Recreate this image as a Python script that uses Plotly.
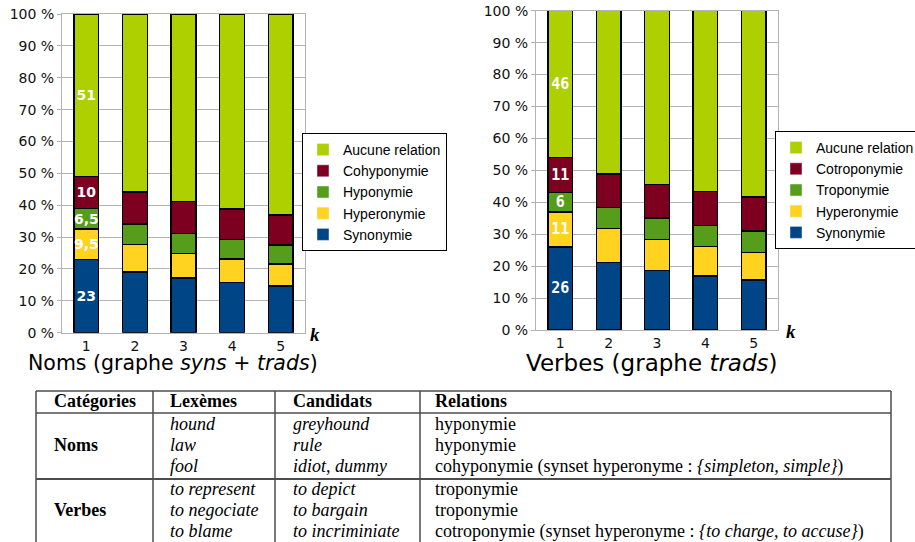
import plotly.graph_objects as go

# The page body margin is removed by a small post-script, so the figure sits at (0, 0).
OFF = 0
W, H = 915 - OFF, 542 - OFF

# ---------------- data ----------------
k_values = [1, 2, 3, 4, 5]
y_ticks = [0, 10, 20, 30, 40, 50, 60, 70, 80, 90, 100]
y_tick_labels = ["0 %", "10 %", "20 %", "30 %", "40 %", "50 %", "60 %", "70 %", "80 %", "90 %", "100 %"]

noms_series = ["Synonymie", "Hyperonymie", "Hyponymie", "Cohyponymie", "Aucune relation"]
noms_synonymie = [23, 19.0, 17.1, 15.7, 14.7]
noms_hyperonymie = [9.5, 8.7, 7.8, 7.5, 6.9]
noms_hyponymie = [6.5, 6.4, 6.3, 6.1, 5.9]
noms_cohyponymie = [10, 10.0, 9.9, 9.5, 9.4]
noms_aucune = [51, 55.9, 58.9, 61.2, 63.1]
noms_labels = [["23", "", "", "", ""], ["9,5", "", "", "", ""], ["6,5", "", "", "", ""],
               ["10", "", "", "", ""], ["51", "", "", "", ""]]

verbes_series = ["Synonymie", "Hyperonymie", "Troponymie", "Cotroponymie", "Aucune relation"]
verbes_synonymie = [26, 21.2, 18.7, 16.9, 15.6]
verbes_hyperonymie = [11, 10.6, 9.6, 9.3, 8.7]
verbes_troponymie = [6, 6.5, 6.7, 6.5, 6.7]
verbes_cotroponymie = [11, 10.6, 10.6, 10.7, 10.7]
verbes_aucune = [46, 51.1, 54.4, 56.6, 58.3]
verbes_labels = [["26", "", "", "", ""], ["11", "", "", "", ""], ["6", "", "", "", ""],
                 ["11", "", "", "", ""], ["46", "", "", "", ""]]

series_colors = ["#004586", "#ffd320", "#579d1c", "#7e0021", "#aecf00"]

noms_title = "Noms (graphe <i>syns</i> + <i>trads</i>)"
verbes_title = "Verbes (graphe <i>trads</i>)"

table_header = ["Catégories", "Lexèmes", "Candidats", "Relations"]
table_categories = ["Noms", "Verbes"]
table_lexemes = [["hound", "law", "fool"], ["to represent", "to negociate", "to blame"]]
table_candidates = [["greyhound", "rule", "idiot, dummy"],
                    ["to depict", "to bargain", "to incriminiate"]]
table_relations = [["hyponymie", "hyponymie",
                    "cohyponymie (synset hyperonyme : <i>{simpleton, simple}</i>)"],
                   ["troponymie", "troponymie",
                    "cotroponymie (synset hyperonyme : <i>{to charge, to accuse}</i>)"]]

# ---------------- helpers ----------------
def px(x):
    return (x - OFF) / W

def py(y):
    return 1 - (y - OFF) / H

fig = go.Figure()

noms_values = [noms_synonymie, noms_hyperonymie, noms_hyponymie, noms_cohyponymie, noms_aucune]
verbes_values = [verbes_synonymie, verbes_hyperonymie, verbes_troponymie, verbes_cotroponymie, verbes_aucune]

noms_label_font = dict(family="DejaVu Sans", size=14, color="white")
verbes_label_font = dict(family="DejaVu Sans Mono", size=15, color="white")

for i, name in enumerate(noms_series):
    fig.add_trace(go.Bar(
        x=k_values, y=noms_values[i], name=name, xaxis="x", yaxis="y",
        width=0.51, marker=dict(color=series_colors[i], line=dict(color="black", width=1.5)),
        text=["<b>%s</b>" % t if t else "" for t in noms_labels[i]],
        textposition="inside", insidetextanchor="middle", textangle=0,
        constraintext="none", textfont=noms_label_font, showlegend=False, hoverinfo="y+name"))
    fig.add_trace(go.Bar(x=[None], y=[None], name=name, xaxis="x", yaxis="y",
                         marker=dict(color=series_colors[i]), legend="legend"))

for i, name in enumerate(verbes_series):
    fig.add_trace(go.Bar(
        x=k_values, y=verbes_values[i], name=name, xaxis="x2", yaxis="y2",
        width=0.51, marker=dict(color=series_colors[i], line=dict(color="black", width=1.5)),
        text=["<b>%s</b>" % t if t else "" for t in verbes_labels[i]],
        textposition="inside", insidetextanchor="middle", textangle=0,
        constraintext="none", textfont=verbes_label_font, showlegend=False, hoverinfo="y+name"))
    fig.add_trace(go.Bar(x=[None], y=[None], name=name, xaxis="x2", yaxis="y2",
                         marker=dict(color=series_colors[i]), legend="legend2"))

axis_common_y = dict(range=[0, 100], tickmode="array", tickvals=y_ticks, ticktext=y_tick_labels,
                     showgrid=True, gridcolor="#b3b3b3", gridwidth=1,
                     showline=True, linecolor="#b3b3b3", linewidth=1, mirror=True,
                     ticks="outside", ticklen=4, tickcolor="#b3b3b3",
                     tickfont=dict(family="DejaVu Sans", size=14, color="#111"),
                     ticklabeloverflow="allow",
                     zeroline=False, fixedrange=True, automargin=False)
axis_common_x = dict(range=[0.5, 5.5], tickmode="array", tickvals=k_values, showgrid=False,
                     showline=True, linecolor="#b3b3b3", linewidth=1, mirror=True,
                     ticks="", tickfont=dict(family="DejaVu Sans", size=14, color="#111"),
                     zeroline=False, fixedrange=True, automargin=False)

legend_common = dict(xanchor="left", yanchor="top", bordercolor="black", borderwidth=1,
                     bgcolor="white", font=dict(family="Liberation Sans", size=14, color="black"),
                     traceorder="reversed", itemwidth=30, tracegroupgap=0)

fig.update_layout(
    width=W, height=H, margin=dict(l=0, r=0, t=0, b=0, autoexpand=False),
    paper_bgcolor="white", plot_bgcolor="white", barmode="stack",
    showlegend=True,
    xaxis=dict(domain=[px(62), px(305)], anchor="y", **axis_common_x),
    yaxis=dict(domain=[py(332.7), py(14)], anchor="x", **axis_common_y),
    xaxis2=dict(domain=[px(536), px(778)], anchor="y2", **axis_common_x),
    yaxis2=dict(domain=[py(330), py(10.7)], anchor="x2", **axis_common_y),
    legend=dict(x=px(302), y=py(133), **legend_common),
    legend2=dict(x=px(775), y=py(131), **legend_common),
)

annotations = []
shapes = []

# chart titles and k labels
annotations.append(dict(text=noms_title, x=px(172.5), y=py(363), xref="paper", yref="paper",
                        showarrow=False, xanchor="center", yanchor="middle",
                        font=dict(family="DejaVu Sans", size=20.5, color="black")))
annotations.append(dict(text=verbes_title, x=px(651.5), y=py(363), xref="paper", yref="paper",
                        showarrow=False, xanchor="center", yanchor="middle",
                        font=dict(family="DejaVu Sans", size=23, color="black")))
for kx, ky in [(315, 334), (791, 331)]:
    annotations.append(dict(text="<b><i>k</i></b>", x=px(kx), y=py(ky), xref="paper", yref="paper",
                            showarrow=False, xanchor="center", yanchor="middle",
                            font=dict(family="Liberation Serif", size=19, color="black")))

# ---------------- table ----------------
col_lines = [36, 153, 275, 420, 891]
col_text_x = [52, 168, 291, 433]
top_y, header_bottom, group_line, bottom_y = 391, 413, 479, 545
line_style = dict(color="#4d4d4d", width=1.5)

for x in col_lines:
    shapes.append(dict(type="line", xref="paper", yref="paper",
                       x0=px(x), x1=px(x), y0=py(top_y), y1=py(bottom_y), line=line_style))
for y in [top_y, header_bottom]:
    shapes.append(dict(type="line", xref="paper", yref="paper",
                       x0=px(36), x1=px(891), y0=py(y), y1=py(y), line=line_style))
shapes.append(dict(type="line", xref="paper", yref="paper",
                   x0=px(36), x1=px(891), y0=py(group_line), y1=py(group_line),
                   line=dict(color="#4d4d4d", width=2.2)))

serif = "Liberation Serif"
for j, htxt in enumerate(table_header):
    annotations.append(dict(text="<b>%s</b>" % htxt, x=px(col_text_x[j]), y=py(401),
                            xref="paper", yref="paper", showarrow=False,
                            xanchor="left", yanchor="middle",
                            font=dict(family=serif, size=18, color="black")))

group_rows_y = [[424, 445, 466], [489, 510, 531]]
for g, cat in enumerate(table_categories):
    annotations.append(dict(text="<b>%s</b>" % cat, x=px(col_text_x[0]), y=py(group_rows_y[g][1]),
                            xref="paper", yref="paper", showarrow=False,
                            xanchor="left", yanchor="middle",
                            font=dict(family=serif, size=18, color="black")))
    for r in range(3):
        yy = py(group_rows_y[g][r])
        for col, txt, ital in [(1, table_lexemes[g][r], True), (2, table_candidates[g][r], True),
                               (3, table_relations[g][r], False)]:
            annotations.append(dict(text=("<i>%s</i>" % txt) if ital else txt,
                                    x=px(col_text_x[col]), y=yy, xref="paper", yref="paper",
                                    showarrow=False, xanchor="left", yanchor="middle",
                                    font=dict(family=serif, size=18, color="black")))

fig.update_layout(annotations=annotations, shapes=shapes)

fig.write_html("out.html", config={"displayModeBar": False},
               post_script="document.body.style.margin='0';document.body.style.overflow='hidden';")
